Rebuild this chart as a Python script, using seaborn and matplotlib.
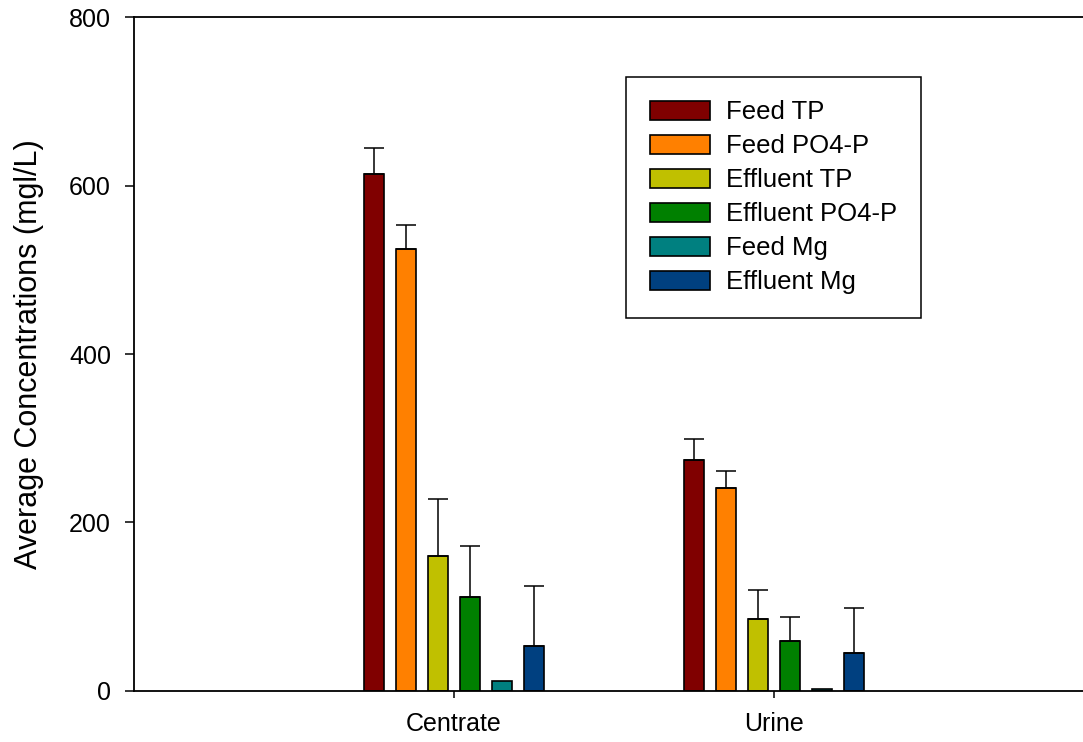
import pandas as pd
import matplotlib.pyplot as plt
import seaborn as sns
import numpy as np

# Values
samples = ["Centrate", "Urine"]
measures = ["Feed TP", "Feed PO4-P", "Effluent TP", "Effluent PO4-P", "Feed Mg", "Effluent Mg"]
centrate_mean = [614, 525, 160, 111, 11.5, 53]
centrate_err = [31, 28, 68, 61, 0, 72]
urine_mean = [274, 241, 85, 59, 2.4, 45]
urine_err = [25, 20, 35, 28, 0, 53]
colors = ["#800000", "#FF8000", "#C0C000", "#008000", "#008080", "#004080"]

# Long table, hue-major so each bar container follows the sample order
rows = []
for i, m in enumerate(measures):
    rows.append({"Sample": "Centrate", "Measure": m, "Conc": centrate_mean[i], "Err": centrate_err[i]})
    rows.append({"Sample": "Urine", "Measure": m, "Conc": urine_mean[i], "Err": urine_err[i]})
df = pd.DataFrame(rows)

sns.set_style("ticks")
plt.rcParams['font.family'] = ['Liberation Sans', 'DejaVu Sans']
plt.rcParams['text.color'] = 'black'
plt.rcParams['axes.labelcolor'] = 'black'
plt.rcParams['xtick.color'] = 'black'
plt.rcParams['ytick.color'] = 'black'
plt.rcParams['axes.edgecolor'] = 'black'

fig = plt.figure(figsize=(10.83, 7.42), dpi=100)
ax = fig.add_axes([0.1237, 0.0691, 0.8864, 0.9076])

sns.barplot(data=df, x="Sample", y="Conc", hue="Measure", order=samples, hue_order=measures,
            palette=colors, saturation=1, width=0.6, gap=0.375, edgecolor="black", linewidth=1.2,
            errorbar=None, legend=False, ax=ax)

bar_containers = list(ax.containers)

# One-sided (upper) error bars on top of each bar
for container, m in zip(bar_containers, measures):
    sub = df[df["Measure"] == m].set_index("Sample").loc[samples]
    for bar, (s, r) in zip(container, sub.iterrows()):
        if r["Err"] <= 0:
            continue
        xc = bar.get_x() + bar.get_width() / 2
        ax.errorbar(xc, bar.get_height(), yerr=[[0], [r["Err"]]], fmt="none",
                    ecolor="black", elinewidth=1.1, capsize=7, capthick=1.1, zorder=1)

ax.set_xlim(-1, 2)
ax.set_ylim(0, 800)
ax.set_yticks([0, 200, 400, 600, 800])
ax.set_xlabel("")
ax.set_ylabel("Average Concentrations (mgl/L)", fontsize=22, labelpad=18)
ax.tick_params(axis="y", labelsize=18, length=6.5, width=1.1, pad=10, color="black", labelcolor="black")
ax.tick_params(axis="x", labelsize=18, length=5.3, width=1.1, pad=10, color="black", labelcolor="black")
ax.spines["right"].set_visible(False)
for side in ["left", "top", "bottom"]:
    ax.spines[side].set_linewidth(1.3)
    ax.spines[side].set_color("black")

leg = ax.legend(bar_containers, measures, loc="upper left",
                bbox_to_anchor=(0.5780, 0.8966), bbox_transform=fig.transFigure,
                borderaxespad=0, fontsize=18.5, frameon=True, fancybox=False,
                handlelength=2.35, handleheight=0.74, handletextpad=0.62,
                labelspacing=0.39, borderpad=0.92, framealpha=1)
leg.get_frame().set_edgecolor("black")
leg.get_frame().set_linewidth(1.1)

fig.savefig("out.png", dpi=100)
